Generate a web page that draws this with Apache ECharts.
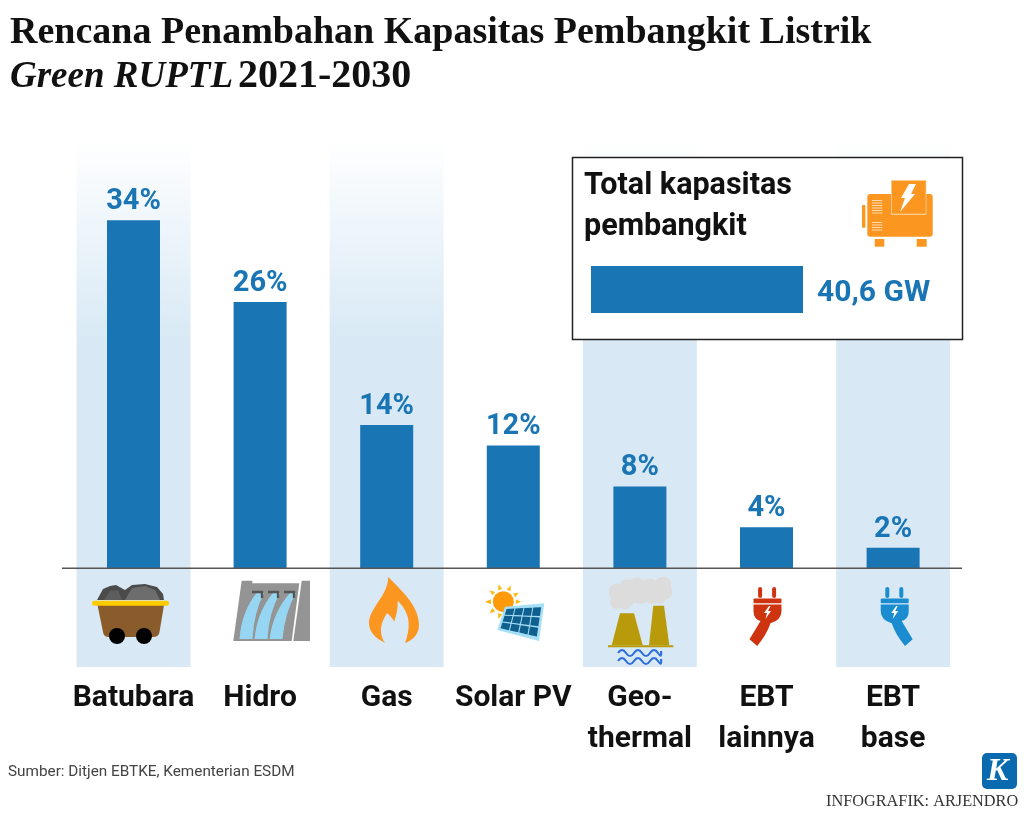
<!DOCTYPE html>
<html>
  <head>
    <meta charset="utf-8" />
    <title>Rencana Penambahan Kapasitas Pembangkit Listrik</title>
    <script src="https://cdn.jsdelivr.net/npm/echarts@6/dist/echarts.min.js"></script>
    <style type="text/css">
      html, body { margin: 0; padding: 0; background: #fff; }
      #demo { width: 1024px; height: 835px; }
    </style>
  </head>
  <body>
    <div id="demo"></div>
    <script type="text/javascript">
      const categories = ['Batubara', 'Hidro', 'Gas', 'Solar PV', 'Geo-\nthermal', 'EBT\nlainnya', 'EBT\nbase']
      const shares = [34, 26, 14, 12, 8, 4, 2]
      const bandCategories = ['Batubara', 'Gas', 'Geo-\nthermal', 'EBT\nbase']
      const totalLabel = ['Total kapasitas', 'pembangkit']
      const totalCapacity = [40.6]

      const BLUE = '#1a75b5'
      const ORANGE = '#fb9620'
      const bodyFont = 'Roboto'
      const headFont = '"Liberation Serif"'

      // ---- icon helpers (page pixels) ----
      function poly(points, fill, z) {
        return { type: 'polygon', z: z || 3, silent: true, shape: { points: points }, style: { fill: fill } }
      }
      function circle(cx, cy, r, fill, z) {
        return { type: 'circle', z: z || 3, silent: true, shape: { cx: cx, cy: cy, r: r }, style: { fill: fill } }
      }
      function rect(x, y, w, h, fill, z, r) {
        return { type: 'rect', z: z || 3, silent: true, shape: { x: x, y: y, width: w, height: h, r: r || 0 }, style: { fill: fill } }
      }
      // the graphic component has no plain path type, so each path is registered as a shape
      var pathCount = 0
      function rawPath(d, style, z) {
        var name = 'iconPath' + pathCount++
        echarts.graphic.registerShape(name, echarts.graphic.extendPath(d, {}))
        return { type: name, z: z || 3, silent: true, style: style }
      }
      function line(x1, y1, x2, y2, color, width, z) {
        return {
          type: 'line', z: z || 3, silent: true,
          shape: { x1: x1, y1: y1, x2: x2, y2: y2 },
          style: { stroke: color, lineWidth: width }
        }
      }
      function text(x, y, str, font, color, z) {
        return {
          type: 'text', z: z || 7, silent: true, x: x, y: y,
          style: { text: str, font: font, fill: color, textVerticalAlign: 'middle' }
        }
      }

      function coalCart() {
        return [
          poly([[97, 600], [103, 589], [110, 586], [116, 585], [125, 590], [132, 585], [145, 584], [157, 587], [163, 594], [164, 600]], '#4b4b4b'),
          poly([[125, 600], [132, 588], [145, 586], [155, 590], [160, 600]], '#6d6d6d'),
          poly([[104, 600], [110, 591], [118, 590], [122, 600]], '#5d5d5d'),
          rawPath('M97.5 605L164 605L159.5 632Q159 637 153 637L109 637Q103.5 637 103 632Z', { fill: '#8a5c2c' }),
          rect(92, 600.7, 77, 5, '#ffcc00', 3, 2),
          circle(117, 636, 8, '#000'),
          circle(144, 636, 8, '#000')
        ]
      }

      function dam() {
        const water = [
          'M256.5 593Q241.5 612 239.5 639L252.5 639Q254 612 264 593Z',
          'M273 593Q257 612 254.5 639L267.5 639Q269 612 280 593Z',
          'M290 593Q273 612 269.5 639L282.5 639Q285 612 296 593Z'
        ]
        const out = [
          poly([[241.7, 580.7], [252.3, 580.7], [252.3, 583.3], [299.3, 583.3], [291.7, 641], [233.3, 641]], '#949494'),
          poly([[301.7, 580.7], [310, 580.7], [310, 641], [293.3, 641]], '#949494')
        ]
        water.forEach(function (d) {
          out.push(rawPath(d, { fill: '#97d6f2' }))
        })
        ;[252, 268, 284].forEach(function (x) {
          out.push(rawPath('M' + x + ' 592L' + (x + 10) + ' 592L' + (x + 10) + ' 598', { fill: 'none', stroke: '#555', lineWidth: 2.4 }))
        })
        return out
      }

      function flame() {
        return [
          rawPath('M388.3 576.7C398 588 419 604 419 625C419 635 412 640 405 643.3C408 635 410 625 407.7 616.7C405 608 401 604 397.7 600.7C398 610 396 616 394.3 621.7C392 618 390 615 387 613.3C384 618 381 624 381 630C381 636 383 640 385 642.7C376 639 369 632 369 623.3C369 608 388 596 388.3 576.7Z', { fill: ORANGE })
        ]
      }

      function solar() {
        const cx = 503.3, cy = 601.7
        const out = []
        ;[-30, -65, -105, -140, -180, 140, 105, 180, 0].forEach(function (deg) {
          const a = deg * Math.PI / 180
          const tip = [cx + 18 * Math.cos(a), cy + 18 * Math.sin(a)]
          const bx = cx + 12.5 * Math.cos(a), by = cy + 12.5 * Math.sin(a)
          const px = -Math.sin(a) * 2.2, py = Math.cos(a) * 2.2
          out.push(poly([tip, [bx + px, by + py], [bx - px, by - py]], '#fdb913'))
        })
        out.push(circle(cx, cy, 10.5, '#ff9a0a'))
        const q = [[505, 606.7], [544.3, 603.3], [539, 641], [497.3, 630]]
        out.push(poly(q, '#a6e0f7'))
        function at(u, v) {
          const tx = q[0][0] + (q[1][0] - q[0][0]) * u, ty = q[0][1] + (q[1][1] - q[0][1]) * u
          const bx = q[3][0] + (q[2][0] - q[3][0]) * u, by = q[3][1] + (q[2][1] - q[3][1]) * u
          return [tx + (bx - tx) * v, ty + (by - ty) * v]
        }
        for (let i = 0; i < 4; i++) {
          for (let j = 0; j < 3; j++) {
            const u0 = 0.06 + i * 0.225, u1 = u0 + 0.2, v0 = 0.1 + j * 0.28, v1 = v0 + 0.24
            out.push(poly([at(u0, v0), at(u1, v0), at(u1, v1), at(u0, v1)], '#0f5f8f'))
          }
        }
        return out
      }

      function geothermal() {
        const gray = '#dcdcdc'
        const puffs = [[617, 592, 8.5], [627, 588, 8.5], [637, 586, 8.5], [650, 587, 8.5], [663, 585, 8.5], [665, 592, 7.5], [617, 602, 7], [625, 605, 5], [660, 598, 6], [640, 594, 10], [628, 598, 8], [652, 596, 8]]
        const out = puffs.map(function (p) {
          return circle(p[0], p[1], p[2], gray)
        })
        out.push(poly([[620, 613.3], [634, 613.3], [642.7, 645.3], [611.7, 645.3]], '#b89a0a'))
        out.push(poly([[653.3, 605.7], [664, 605.7], [669.3, 645.3], [649, 645.3]], '#b89a0a'))
        out.push(rect(608, 645.3, 65.3, 2, '#b89a0a'))
        ;[653, 661].forEach(function (y) {
          out.push(rawPath('M618 ' + y + 'Q622 ' + (y - 6) + ' 626 ' + y + 'T634 ' + y + 'T642 ' + y + 'T650 ' + y + 'T658 ' + y + 'T661 ' + (y - 2), { fill: 'none', stroke: '#2f6fdc', lineWidth: 2.2 }))
        })
        return out
      }

      function plug(cx, flip, color) {
        const s = flip ? -1 : 1
        const X = function (v) { return (cx + s * v).toFixed(1) }
        const d = 'M' + X(-14) + ' 604.5L' + X(14) + ' 604.5L' + X(14) + ' 611Q' + X(14) + ' 619 ' + X(7) + ' 621'
          + 'Q' + X(13) + ' 631 ' + X(18) + ' 639.3L' + X(10.3) + ' 646Q' + X(1) + ' 635 ' + X(-3) + ' 623.3'
          + 'Q' + X(-14) + ' 620 ' + X(-14) + ' 611Z'
        return [
          rect(cx - 9.4, 587, 4, 11, color, 3, 2),
          rect(cx + 4.6, 587, 4, 11, color, 3, 2),
          rect(cx - 14, 598.5, 28, 4.7, color, 3, 1),
          rawPath(d, { fill: color }),
          rawPath('M' + (cx + 1.5) + ' 606L' + (cx - 3.5) + ' 613L' + (cx - 0.5) + ' 613L' + (cx - 2) + ' 619L' + (cx + 3.5) + ' 611L' + (cx + 0.5) + ' 611L' + (cx + 3) + ' 606Z', { fill: '#fff' })
        ]
      }

      function generator() {
        const out = [
          rect(862, 205, 3.4, 22.7, ORANGE, 6, 1),
          rect(867.3, 194, 65.4, 42.7, ORANGE, 6, 3),
          rect(891, 180, 35.4, 34.8, '#fcdcb4', 6),
          rect(891.7, 180.7, 34, 33, ORANGE, 6),
          rect(874.7, 239, 9.6, 7.7, ORANGE, 6),
          rect(916.7, 239, 10, 7.7, ORANGE, 6),
          poly([[909, 184], [916, 184], [911, 194], [915, 194], [900, 212], [905, 198], [901, 198]], '#fff', 7)
        ]
        ;[200, 202.5, 205, 207.5, 210, 212.5, 222, 224.5, 227, 229.5].forEach(function (y) {
          out.push(rect(872, y, 10.3, 1, '#fcdcb4', 7))
        })
        return out
      }

      const icons = [].concat(coalCart(), dam(), flame(), solar(), geothermal(), plug(767.5, true, '#cf3411'), plug(894.7, false, '#1a8ccf'))

      const panel = [
        {
          type: 'rect', z: 5, silent: true,
          shape: { x: 572.5, y: 157.5, width: 390, height: 182 },
          style: { fill: '#fff', stroke: '#222', lineWidth: 1.5 }
        },
        text(584, 186, totalLabel[0], '700 30.5px ' + bodyFont, '#111'),
        text(584, 227, totalLabel[1], '700 30.5px ' + bodyFont, '#111')
      ].concat(generator())

      const footer = [
        text(8, 772, 'Sumber: Ditjen EBTKE, Kementerian ESDM', '15.3px ' + bodyFont, '#444'),
        rect(982, 753, 35, 36, '#0a6ab0', 3, 5),
        text(987, 772, 'K', 'italic 700 32px ' + headFont, '#fff'),
        text(826, 802, 'INFOGRAFIK: ARJENDRO', '16.3px ' + headFont, '#333')
      ]

      var chart = echarts.init(document.getElementById('demo'))
      var option = {
        animation: false,
        backgroundColor: '#fff',
        title: [
          {
            text: 'Rencana Penambahan Kapasitas Pembangkit Listrik',
            left: 5,
            top: 9,
            textStyle: { fontFamily: headFont, fontWeight: 700, fontSize: 38, color: '#111' }
          },
          {
            text: '{i|Green RUPTL} {n|2021-2030}',
            left: 5,
            top: 52,
            textStyle: {
              rich: {
                i: { fontFamily: headFont, fontWeight: 700, fontStyle: 'italic', fontSize: 37, color: '#111' },
                n: { fontFamily: headFont, fontWeight: 700, fontSize: 40, color: '#111' }
              }
            }
          }
        ],
        grid: [
          { left: 70.2, top: 140, width: 886.2, height: 527 },
          { left: 591, top: 266, width: 212, height: 47, z: 6 }
        ],
        xAxis: [
          {
            type: 'category',
            data: categories,
            axisLine: { show: false },
            axisTick: { show: false },
            axisLabel: {
              interval: 0,
              margin: 11,
              color: '#111',
              fontFamily: bodyFont,
              fontWeight: 700,
              fontSize: 30,
              lineHeight: 41
            }
          },
          { type: 'value', gridIndex: 1, min: 0, max: 40.6, show: false }
        ],
        yAxis: [
          { type: 'value', min: -9.64, max: 41.83, show: false },
          { type: 'category', gridIndex: 1, data: ['Total'], show: false }
        ],
        series: [
          {
            type: 'custom',
            z: 1,
            silent: true,
            data: bandCategories.map(function (c) { return [c] }),
            encode: { x: 0 },
            renderItem: function (params, api) {
              const top = api.coord([api.value(0), 41.83])
              const bottom = api.coord([api.value(0), -9.64])
              const w = api.size([1, 0])[0] * 0.9
              return {
                type: 'rect',
                shape: { x: top[0] - w / 2, y: top[1], width: w, height: bottom[1] - top[1] },
                style: {
                  fill: new echarts.graphic.LinearGradient(0, 0, 0, 1, [
                    { offset: 0, color: '#ffffff' },
                    { offset: 0.38, color: '#d8e9f5' },
                    { offset: 1, color: '#d8e9f5' }
                  ])
                }
              }
            }
          },
          {
            type: 'bar',
            z: 2,
            data: shares,
            barWidth: 53,
            itemStyle: { color: BLUE },
            label: {
              show: true,
              position: 'top',
              distance: 4,
              formatter: '{c}%',
              color: BLUE,
              fontFamily: bodyFont,
              fontWeight: 700,
              fontSize: 29
            }
          },
          {
            type: 'bar',
            z: 6,
            xAxisIndex: 1,
            yAxisIndex: 1,
            data: totalCapacity,
            barWidth: 47,
            itemStyle: { color: BLUE },
            label: {
              show: true,
              position: 'right',
              distance: 14,
              offset: [0, 4],
              formatter: function (p) { return String(p.value).replace('.', ',') + ' GW' },
              color: BLUE,
              fontFamily: bodyFont,
              fontWeight: 700,
              fontSize: 30
            }
          }
        ]
      }
      chart.setOption(option)

      // baseline runs a bit past the plot on both sides, so it needs the scale first
      var y0 = chart.convertToPixel({ yAxisIndex: 0 }, 0)
      chart.setOption({
        graphic: { elements: [line(62, y0, 962, y0, '#555', 1.5, 4)].concat(icons, panel, footer) }
      })
    </script>
  </body>
</html>
